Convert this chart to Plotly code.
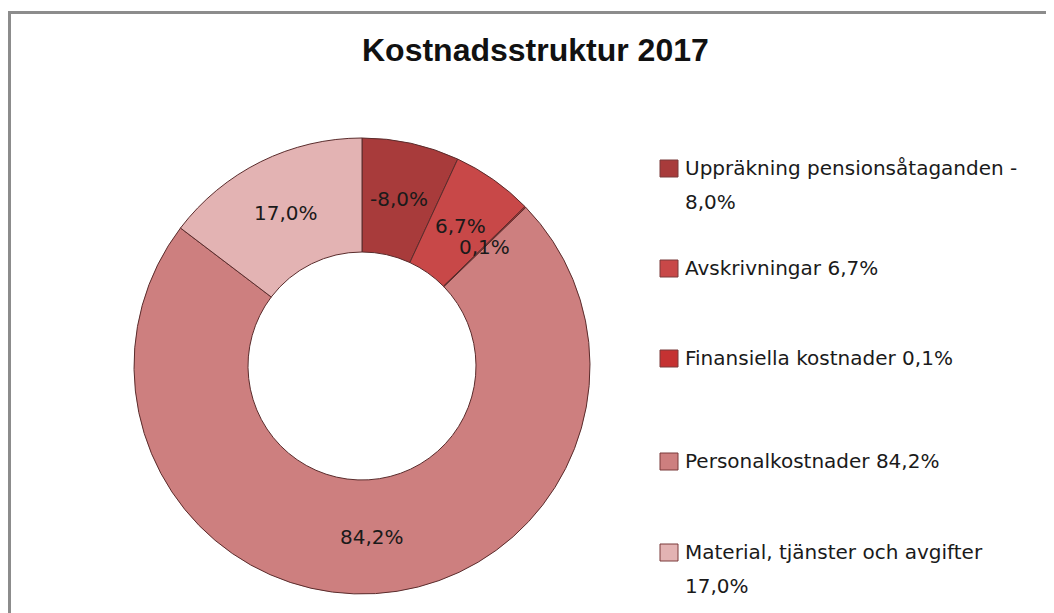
import math
import plotly.graph_objects as go

# ---- data ----
categories = [
    "Uppräkning pensionsåtaganden",
    "Avskrivningar",
    "Finansiella kostnader",
    "Personalkostnader",
    "Material, tjänster och avgifter",
]
shares = [-8.0, 6.7, 0.1, 84.2, 17.0]
colors = ["#A83B3B", "#C84848", "#C53232", "#CD7F7F", "#E3B3B3"]
title_text = "Kostnadsstruktur 2017"

# ---- layout constants (pixels in the photographed window) ----
W, H = 1054, 613
OFF = 8  # default page body margin
cx, cy, R = 362, 366, 228
hole = 0.5
legend_x_marker = 660
legend_x_text = 683
legend_y = [168, 268, 358, 461, 552]
line_gap = 34
label_font = "DejaVu Sans"


def px(x):
    return (x - OFF) / W


def py(y):
    return 1 - (y - OFF) / H


def fmt(v):
    return f"{v:.1f}".replace(".", ",") + "%"


def wrap(s, width=31):
    if len(s) <= width:
        return [s]
    cut = max(i for i, ch in enumerate(s[: width + 1]) if ch in " -")
    if s[cut] == "-":
        return [s[: cut + 1], s[cut + 1:].strip()]
    return [s[:cut], s[cut + 1:]]


abs_vals = [abs(v) for v in shares]

fig = go.Figure(
    go.Pie(
        labels=categories,
        values=abs_vals,
        hole=hole,
        sort=False,
        direction="clockwise",
        rotation=0,
        textinfo="none",
        marker=dict(colors=colors, line=dict(color="#5a2c2c", width=1)),
        domain=dict(
            x=[px(cx - R), px(cx + R)],
            y=[py(cy + R), py(cy - R)],
        ),
        showlegend=False,
        hoverinfo="label+text",
        text=[fmt(v) for v in shares],
    )
)

annotations = []
# slice labels, placed at the middle radius of each slice
total = sum(abs_vals)
cum = 0.0
rmid = R * (1 + hole) / 2
for v, a in zip(shares, abs_vals):
    mid = (cum + a / 2) / total * 2 * math.pi
    cum += a
    x = cx + rmid * math.sin(mid)
    y = cy - rmid * math.cos(mid)
    annotations.append(dict(
        x=px(x), y=py(y), xref="paper", yref="paper", showarrow=False,
        text=fmt(v), font=dict(family=label_font, size=20, color="#1a1a1a"),
        xanchor="center", yanchor="middle",
    ))

# legend
shapes = []
for name, v, col, ly in zip(categories, shares, colors, legend_y):
    shapes.append(dict(
        type="rect", xref="paper", yref="paper",
        x0=px(legend_x_marker), x1=px(legend_x_marker + 18),
        y0=py(ly - 8), y1=py(ly + 9),
        fillcolor=col, line=dict(color="#7a3a3a", width=1),
    ))
    for k, line in enumerate(wrap(f"{name} {fmt(v)}")):
        annotations.append(dict(
            x=px(legend_x_text), y=py(ly + k * line_gap), xref="paper", yref="paper",
            showarrow=False, text=line,
            font=dict(family=label_font, size=20, color="#1a1a1a"),
            xanchor="left", yanchor="middle",
        ))

# title
annotations.append(dict(
    x=px(535), y=py(50), xref="paper", yref="paper", showarrow=False,
    text=f"<b>{title_text}</b>",
    font=dict(family="Liberation Sans, Arial", size=32, color="#111111"),
    xanchor="center", yanchor="middle",
))

# chart border (Excel frame)
shapes.append(dict(
    type="rect", xref="paper", yref="paper",
    x0=px(9.5), x1=px(W + 40), y0=py(H + 40), y1=py(12.5),
    line=dict(color="#8c8c8c", width=3), fillcolor="rgba(0,0,0,0)",
))

fig.update_layout(
    width=W, height=H,
    margin=dict(l=0, r=0, t=0, b=0),
    paper_bgcolor="white",
    plot_bgcolor="white",
    annotations=annotations,
    shapes=shapes,
)

fig.write_html("out.html")
